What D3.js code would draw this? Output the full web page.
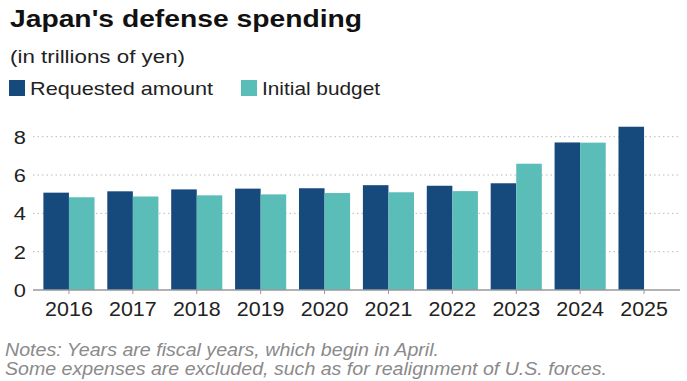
<!DOCTYPE html>
<html><head><meta charset="utf-8">
<script src="https://cdn.jsdelivr.net/npm/d3@7"></script>
<style>body{margin:0;background:#fff}svg{display:block}text{font-family:"Liberation Sans",Arial,sans-serif}</style>
</head><body><div id="chart"></div>
<script>
const years = ["2016","2017","2018","2019","2020","2021","2022","2023","2024","2025"];
const requested = [5.08,5.15,5.25,5.29,5.31,5.47,5.44,5.57,7.70,8.52];
const initial = [4.84,4.88,4.94,4.99,5.06,5.10,5.16,6.59,7.69,null];
const yTicks = [0,2,4,6,8];
const seriesNames = ["Requested amount","Initial budget"];
const colors = ["#174a7c","#5bbdb8"];

const W=687,H=381;
const svg=d3.select("#chart").append("svg").attr("width",W).attr("height",H);

const x=d3.scaleBand().domain(years).range([37,676]).paddingInner(0.2).paddingOuter(0.1);
const xs=d3.scaleBand().domain([0,1]).range([0,x.bandwidth()]);
const y=d3.scaleLinear().domain([0,8]).range([290,136.7]);

// title etc
svg.append("text").attr("x",10).attr("y",27).attr("font-size",23.5).attr("font-weight","bold").attr("fill","#111")
  .attr("textLength",352).attr("lengthAdjust","spacingAndGlyphs").text("Japan's defense spending");
svg.append("text").attr("x",10).attr("y",63).attr("font-size",18).attr("fill","#222")
  .attr("textLength",175).attr("lengthAdjust","spacingAndGlyphs").text("(in trillions of yen)");
const leg=[{x:9,tx:30,w:183},{x:241,tx:262,w:118}];
leg.forEach((l,i)=>{
  svg.append("rect").attr("x",l.x).attr("y",80).attr("width",16).attr("height",16).attr("fill",colors[i]);
  svg.append("text").attr("x",l.tx).attr("y",95).attr("font-size",18.5).attr("fill","#222")
    .attr("textLength",l.w).attr("lengthAdjust","spacingAndGlyphs").text(seriesNames[i]);
});

// grid
svg.append("g").selectAll("line").data(yTicks.filter(d=>d>0)).join("line")
  .attr("x1",33).attr("x2",680).attr("y1",d=>y(d)).attr("y2",d=>y(d))
  .attr("stroke","#bbb").attr("stroke-width",1).attr("stroke-dasharray","1.5,3");

// y labels
svg.append("g").selectAll("text").data(yTicks).join("text")
  .attr("transform",d=>`translate(26,${y(d)}) scale(1.15,1)`).attr("dy","0.36em")
  .attr("text-anchor","end").attr("font-size",19).attr("fill","#222").text(d=>d);

// bars
const g=svg.append("g");
years.forEach((yr,i)=>{
  [requested[i],initial[i]].forEach((v,j)=>{
    if(v==null) return;
    g.append("rect").attr("x",x(yr)+xs(j)).attr("width",xs.bandwidth())
      .attr("y",y(v)).attr("height",y(0)-y(v)).attr("fill",colors[j]);
  });
});

// x axis
svg.append("line").attr("x1",33).attr("x2",680).attr("y1",y(0)).attr("y2",y(0)).attr("stroke","#999").attr("stroke-width",1.5);
svg.append("g").selectAll("line").data(years).join("line")
  .attr("x1",d=>x(d)+x.bandwidth()/2).attr("x2",d=>x(d)+x.bandwidth()/2)
  .attr("y1",y(0)).attr("y2",y(0)+4).attr("stroke","#999").attr("stroke-width",1);
svg.append("g").selectAll("text").data(years).join("text")
  .attr("transform",d=>`translate(${x(d)+x.bandwidth()/2},315.5) scale(1.1,1)`)
  .attr("text-anchor","middle").attr("font-size",19.5).attr("fill","#222").text(d=>d);

// notes
const notes=["Notes: Years are fiscal years, which begin in April.","Some expenses are excluded, such as for realignment of U.S. forces."];
const nw=[434,602];
notes.forEach((t,i)=>{
  svg.append("text").attr("x",5).attr("y",356+i*18.5).attr("font-size",18.5).attr("font-style","italic").attr("fill","#8a8a8a")
    .attr("textLength",nw[i]).attr("lengthAdjust","spacingAndGlyphs").text(t);
});
</script></body></html>
